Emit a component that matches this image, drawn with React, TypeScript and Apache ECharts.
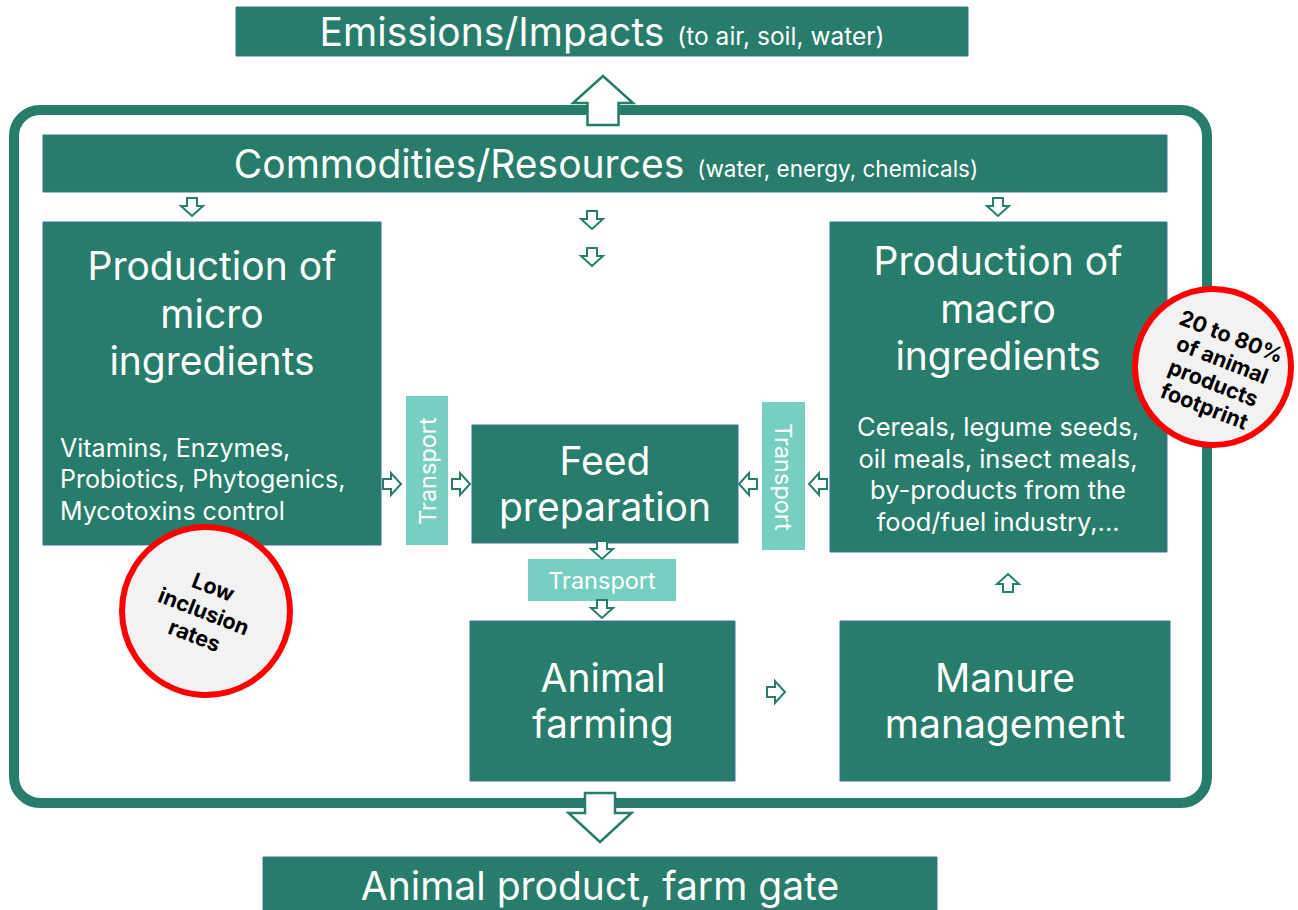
import React, { useEffect, useRef } from "react";
import * as echarts from "echarts";

const GREEN = "#277C6B";
const EDGE = "#41719C";
const LIGHT = "#76CFC0";
const FONT = "Inter";

const topTitle = ["Emissions/Impacts", "(to air, soil, water)"];
const resourceTitle = ["Commodities/Resources", "(water, energy, chemicals)"];
const bottomTitle = "Animal product, farm gate";
const microTitle = ["Production of", "micro", "ingredients"];
const microItems = ["Vitamins, Enzymes,", "Probiotics, Phytogenics,", "Mycotoxins control"];
const macroTitle = ["Production of", "macro", "ingredients"];
const macroItems = ["Cereals, legume seeds,", "oil meals, insect meals,", "by-products from the", "food/fuel industry,..."];
const feedTitle = ["Feed", "preparation"];
const farmTitle = ["Animal", "farming"];
const manureTitle = ["Manure", "management"];
const transportLabel = "Transport";
const macroNote = ["20 to 80%", "of animal", "products", "footprint"];
const microNote = ["Low", "inclusion", "rates"];

type Dir = "up" | "down" | "left" | "right";

function arrowPoints(cx: number, cy: number, dir: Dir, L: number, W: number, S: number, H: number) {
  const pts = [
    [-S / 2, -L / 2], [S / 2, -L / 2], [S / 2, L / 2 - H], [W / 2, L / 2 - H],
    [0, L / 2], [-W / 2, L / 2 - H], [-S / 2, L / 2 - H],
  ];
  return pts.map(([x, y]) => {
    if (dir === "down") return [cx + x, cy + y];
    if (dir === "up") return [cx + x, cy - y];
    if (dir === "right") return [cx + y, cy + x];
    return [cx - y, cy + x];
  });
}

function smallArrow(cx: number, cy: number, dir: Dir) {
  return {
    type: "polygon",
    shape: { points: arrowPoints(cx, cy, dir, 18, 22, 10, 10) },
    style: { fill: "#fff", stroke: GREEN, lineWidth: 2 },
    z: 20,
  };
}

function box(x: number, y: number, w: number, h: number, fill = GREEN, stroke: string | null = EDGE) {
  return {
    type: "rect",
    shape: { x, y, width: w, height: h },
    style: { fill, stroke: stroke || undefined, lineWidth: stroke ? 1 : 0 },
    z: 5,
  };
}

function label(x: number, y: number, lines: string[], size: number, lh: number, align = "center", color = "#fff", family = FONT, weight = "normal", rotation = 0) {
  return {
    type: "text",
    x, y, rotation,
    style: {
      text: lines.join("\n"), x: 0, y: 0,
      fill: color, fontSize: size, fontFamily: family, fontWeight: weight,
      align, verticalAlign: "middle", textAlign: align, textVerticalAlign: "middle",
      lineHeight: lh,
    },
    z: 30,
  };
}

function mixedTitle(x: number, y: number, parts: string[], big: number, small: number) {
  return {
    type: "text",
    x, y,
    style: {
      text: `{a|${parts[0]}}{b|${parts[1]}}`, x: 0, y: 0,
      align: "center", verticalAlign: "middle", textAlign: "center", textVerticalAlign: "middle",
      rich: {
        a: { fontSize: big, fontFamily: FONT, fill: "#fff", color: "#fff", lineHeight: 46 },
        b: { fontSize: small, fontFamily: FONT, fill: "#fff", color: "#fff", lineHeight: 46, padding: [10, 0, 0, 13] },
      },
    },
    z: 30,
  };
}

function note(cx: number, cy: number, r: number, lines: string[], size: number, lh: number, dx: number, dy: number) {
  return [
    {
      type: "circle",
      shape: { cx, cy, r },
      style: { fill: "#F2F2F2", stroke: "#FF0000", lineWidth: 6 },
      z: 40,
    },
    { ...label(cx + dx, cy + dy, lines, size, lh, "center", "#000", FONT, "bold", -0.37), z: 41 },
  ];
}

export default function App() {
  const ref = useRef<HTMLDivElement>(null);
  useEffect(() => {
    if (!ref.current) return;
    const chart = echarts.init(ref.current, null, { renderer: "svg" });
    const T = 39;
    const elements: any[] = [
      // outer frame
      {
        type: "rect",
        shape: { x: 14, y: 110, width: 1193, height: 693, r: 26 },
        style: { fill: "none", stroke: GREEN, lineWidth: 10 },
        z: 1,
      },
      // big arrows
      {
        type: "polygon",
        shape: { points: arrowPoints(603, 100.5, "up", 49, 60, 31, 27) },
        style: { fill: "#fff", stroke: GREEN, lineWidth: 2.5 },
        z: 10,
      },
      {
        type: "polygon",
        shape: { points: arrowPoints(600, 817.5, "down", 49, 63, 30, 29) },
        style: { fill: "#fff", stroke: GREEN, lineWidth: 2.5 },
        z: 10,
      },
      // boxes
      box(236, 7, 732, 49),
      box(43, 135, 1124, 57),
      box(43, 222, 338, 323),
      box(830, 222, 337, 330),
      box(472, 425, 266, 118),
      box(470, 621, 265, 160),
      box(840, 621, 330, 160),
      box(263, 857, 674, 60),
      box(406, 396, 42, 149, LIGHT, null),
      box(762, 402, 43, 148, LIGHT, null),
      box(528, 559, 148, 42, LIGHT, null),
      // small arrows
      smallArrow(192, 207, "down"),
      smallArrow(592, 220, "down"),
      smallArrow(592, 257, "down"),
      smallArrow(998, 207, "down"),
      smallArrow(392, 484, "right"),
      smallArrow(461, 484, "right"),
      smallArrow(748, 484, "left"),
      smallArrow(818, 484, "left"),
      smallArrow(602, 550, "down"),
      smallArrow(602, 609, "down"),
      smallArrow(776, 692, "right"),
      smallArrow(1008, 583, "up"),
      // texts
      mixedTitle(602, 31, topTitle, T, 24.5),
      mixedTitle(606, 163, resourceTitle, T, 22.5),
      label(600, 885, [bottomTitle], T, 44),
      label(212, 313, microTitle, T, 47.5),
      label(60, 479, microItems, 25, 31.5, "left"),
      label(998, 308, macroTitle, T, 47.5),
      label(998, 474, macroItems, 25.5, 31.5),
      label(605, 483, feedTitle, T, 46),
      label(603, 700, farmTitle, T, 46),
      label(1005, 700, manureTitle, T, 46),
      label(427, 471, [transportLabel], 23.5, 24, "center", "#fff", FONT, "normal", Math.PI / 2),
      label(783.5, 477, [transportLabel], 23.5, 24, "center", "#fff", FONT, "normal", -Math.PI / 2),
      label(602, 580, [transportLabel], 23.5, 24),
      ...note(1213, 367, 78, macroNote, 21.5, 25, 5, 4),
      ...note(206, 611, 84, microNote, 21.5, 26, -2, 0),
    ];
    chart.setOption({ animation: false, graphic: { elements } });
    return () => chart.dispose();
  }, []);
  return (
    <div
      ref={ref}
      style={{ position: "absolute", left: 0, top: 0, width: 1298, height: 910, background: "#fff" }}
    />
  );
}
